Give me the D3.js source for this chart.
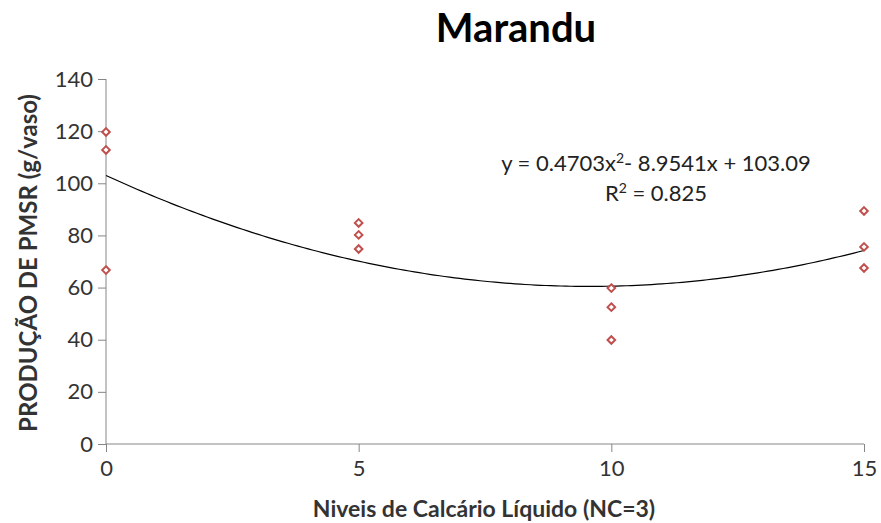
<!DOCTYPE html>
<html>
<head>
<meta charset="utf-8">
<script src="https://cdn.jsdelivr.net/npm/d3@7"></script>
<style>
body { margin: 0; background: #fff; }
text { font-family: Lato, "Open Sans", sans-serif; }
.axis path, .axis line { stroke: #868686; }
.axis text { font-size: 22px; fill: #333; }
</style>
</head>
<body>
<div id="chart"></div>
<script>
// observed points (x level, production)
var levels = [0, 0, 0, 5, 5, 5, 10, 10, 10, 15, 15, 15];
var production = [119.7, 112.8, 66.7, 84.8, 80.2, 74.8, 59.8, 52.5, 39.9, 89.4, 75.6, 67.5];
var xTicks = [0, 5, 10, 15];
var yTicks = [0, 20, 40, 60, 80, 100, 120, 140];

var width = 881, height = 523;
var margin = {top: 79, right: 17, bottom: 79, left: 106};
var chartWidth = width - margin.left - margin.right;
var chartHeight = height - margin.top - margin.bottom;

var svg = d3.select('#chart').append('svg')
    .attr('width', width)
    .attr('height', height);

var g = svg.append('g')
    .attr('transform', `translate(${margin.left}, ${margin.top})`);

var xScale = d3.scaleLinear().domain([0, 15]).range([0, chartWidth]);
var yScale = d3.scaleLinear().domain([0, 140]).range([chartHeight, 0]);

var xAxis = d3.axisBottom(xScale).tickValues(xTicks).tickSize(8).tickPadding(8);
var yAxis = d3.axisLeft(yScale).tickValues(yTicks).tickSize(8).tickPadding(5);

g.append('g')
    .attr('class', 'x axis')
    .attr('transform', `translate(0,${chartHeight})`)
    .call(xAxis)
    .call(a => a.select('.domain').attr('d', `M0,0H${chartWidth}`));

g.append('g')
    .attr('class', 'y axis')
    .call(yAxis)
    .call(a => a.select('.domain').attr('d', `M0,0V${chartHeight}`));

// quadratic least squares fit (same as excel's trendline)
function polyFit(xs, ys) {
  var S = [0,0,0,0,0], T = [0,0,0];
  xs.forEach((x, i) => {
    for (var k = 0; k < 5; k++) S[k] += Math.pow(x, k);
    for (var k = 0; k < 3; k++) T[k] += Math.pow(x, k) * ys[i];
  });
  var A = [[S[0],S[1],S[2],T[0]],[S[1],S[2],S[3],T[1]],[S[2],S[3],S[4],T[2]]];
  for (var i = 0; i < 3; i++) {
    for (var j = i + 1; j < 3; j++) {
      var f = A[j][i] / A[i][i];
      for (var k = i; k < 4; k++) A[j][k] -= f * A[i][k];
    }
  }
  var c = [0,0,0];
  for (var i = 2; i >= 0; i--) {
    var s = A[i][3];
    for (var k = i + 1; k < 3; k++) s -= A[i][k] * c[k];
    c[i] = s / A[i][i];
  }
  return c;
}
var coef = polyFit(levels, production);
var trend = d3.range(0, 15.01, 0.1).map(x => [x, coef[0] + coef[1] * x + coef[2] * x * x]);

g.append('path')
    .datum(trend)
    .attr('fill', 'none')
    .attr('stroke', '#000')
    .attr('stroke-width', 1.2)
    .attr('d', d3.line().x(d => xScale(d[0])).y(d => yScale(d[1])));

g.selectAll('.pt')
    .data(levels.map((x, i) => [x, production[i]]))
    .enter().append('path')
    .attr('class', 'pt')
    .attr('transform', d => `translate(${xScale(d[0])},${yScale(d[1])})`)
    .attr('d', 'M0,-3.8L3.8,0L0,3.8L-3.8,0Z')
    .attr('fill', '#fff')
    .attr('stroke', '#C0504D')
    .attr('stroke-width', 2);

// titles
svg.append('text')
    .attr('x', 516).attr('y', 42)
    .attr('text-anchor', 'middle')
    .style('font-size', '40px').style('font-weight', 'bold')
    .text('Marandu');

svg.append('text')
    .attr('x', 484).attr('y', 517)
    .attr('text-anchor', 'middle')
    .style('font-size', '23px').style('font-weight', 'bold').style('fill', '#333')
    .text('Niveis de Calcário Líquido (NC=3)');

svg.append('text')
    .attr('transform', 'translate(37,263) rotate(-90)')
    .attr('text-anchor', 'middle')
    .style('font-size', '24px').style('font-weight', 'bold').style('fill', '#333')
    .text('PRODUÇÃO DE PMSR (g/vaso)');

// equation label
var eq = svg.append('text')
    .attr('x', 656).attr('y', 171)
    .attr('text-anchor', 'middle')
    .style('font-size', '22px').style('fill', '#222');
eq.append('tspan').text('y = 0.4703x');
eq.append('tspan').attr('dy', -8).style('font-size', '14px').text('2');
eq.append('tspan').attr('dy', 8).text('- 8.9541x + 103.09');

var r2 = svg.append('text')
    .attr('x', 656).attr('y', 201)
    .attr('text-anchor', 'middle')
    .style('font-size', '22px').style('fill', '#222');
r2.append('tspan').text('R');
r2.append('tspan').attr('dy', -8).style('font-size', '14px').text('2');
r2.append('tspan').attr('dy', 8).text(' = 0.825');
</script>
</body>
</html>
